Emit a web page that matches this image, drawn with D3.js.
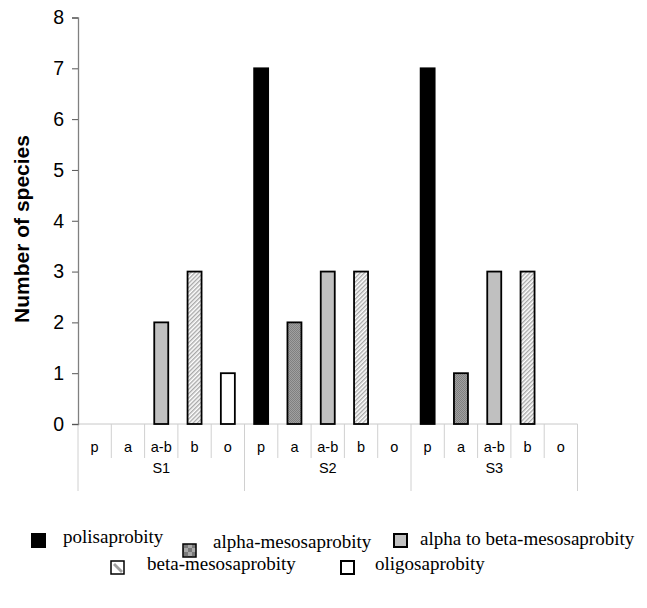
<!DOCTYPE html>
<html>
<head>
<meta charset="utf-8">
<script src="https://cdn.jsdelivr.net/npm/d3@7"></script>
<style>
  body { margin: 0; background: #fff; }
  svg { display: block; }
</style>
</head>
<body>
<svg id="chart" width="647" height="608"></svg>
<script>
// ---- data ----
const groups = ["S1", "S2", "S3"];
const classes = ["p", "a", "a-b", "b", "o"];
const classNames = ["polisaprobity", "alpha-mesosaprobity", "alpha to beta-mesosaprobity", "beta-mesosaprobity", "oligosaprobity"];
const valuesS1 = [0, 0, 2, 3, 1];
const valuesS2 = [7, 2, 3, 3, 0];
const valuesS3 = [7, 1, 3, 3, 0];
const yTicks = [0, 1, 2, 3, 4, 5, 6, 7, 8];

const seriesValues = [valuesS1, valuesS2, valuesS3];
const rows = [];
groups.forEach((g, gi) => classes.forEach((c, ci) => rows.push({ key: g + "|" + c, group: g, cls: c, ci, value: seriesValues[gi][ci] })));

const svg = d3.select("#chart");
const defs = svg.append("defs");

// patterns
const chk = defs.append("pattern").attr("id", "chk").attr("patternUnits", "userSpaceOnUse").attr("width", 2).attr("height", 2);
chk.append("rect").attr("width", 2).attr("height", 2).attr("fill", "#a0a0a0");
chk.append("rect").attr("width", 1).attr("height", 1).attr("fill", "#808080");
chk.append("rect").attr("x", 1).attr("y", 1).attr("width", 1).attr("height", 1).attr("fill", "#808080");

const hatch = defs.append("pattern").attr("id", "hatch").attr("patternUnits", "userSpaceOnUse").attr("width", 3).attr("height", 3)
  .attr("patternTransform", "rotate(45)");
hatch.append("rect").attr("width", 3).attr("height", 3).attr("fill", "#ffffff");
hatch.append("rect").attr("width", 1.4).attr("height", 3).attr("fill", "#a8a8a8");

const chkBig = defs.append("pattern").attr("id", "chkBig").attr("patternUnits", "userSpaceOnUse").attr("width", 8).attr("height", 8);
chkBig.append("rect").attr("width", 8).attr("height", 8).attr("fill", "#a8a8a8");
chkBig.append("rect").attr("width", 4).attr("height", 4).attr("fill", "#7a7a7a");
chkBig.append("rect").attr("x", 4).attr("y", 4).attr("width", 4).attr("height", 4).attr("fill", "#7a7a7a");

const fills = ["#000000", "url(#chk)", "#c0c0c0", "url(#hatch)", "#ffffff"];

// ---- scales ----
const x = d3.scaleBand().domain(rows.map(d => d.key)).range([78, 577.5]).paddingInner(0).paddingOuter(0);
const y = d3.scaleLinear().domain([0, 8]).range([424, 17.5]);
const barW = 14;
const step = x.step();

// x baseline and dividers
svg.append("line").attr("x1", 78).attr("x2", 577.5).attr("y1", y(0)).attr("y2", y(0)).attr("stroke", "#c8c8c8").attr("stroke-width", 1);
rows.forEach((d) => {
  const xb = x(d.key);
  const isGroupStart = d.ci === 0;
  svg.append("line").attr("x1", xb).attr("x2", xb).attr("y1", y(0)).attr("y2", isGroupStart ? 491 : 458)
    .attr("stroke", "#d0d0d0").attr("stroke-width", 1);
});
svg.append("line").attr("x1", 577.5).attr("x2", 577.5).attr("y1", y(0)).attr("y2", 491).attr("stroke", "#d0d0d0");

// category labels
svg.append("g").selectAll("text").data(rows).join("text")
  .attr("x", d => x(d.key) + step / 2).attr("y", 451.5)
  .attr("text-anchor", "middle").attr("font-family", "Liberation Sans, Arial, sans-serif").attr("font-size", 14.5)
  .attr("fill", "#000").text(d => d.cls);

// group labels
svg.append("g").selectAll("text").data(groups).join("text")
  .attr("x", (g) => x(g + "|" + classes[2]) + step / 2).attr("y", 473)
  .attr("text-anchor", "middle").attr("font-family", "Liberation Sans, Arial, sans-serif").attr("font-size", 14.5)
  .attr("fill", "#000").text(g => g);

// bars
svg.append("g").selectAll("rect").data(rows.filter(d => d.value > 0)).join("rect")
  .attr("x", d => x(d.key) + step / 2 - barW / 2)
  .attr("y", d => y(d.value))
  .attr("width", barW)
  .attr("height", d => y(0) - y(d.value))
  .attr("fill", d => fills[d.ci])
  .attr("stroke", "#000")
  .attr("stroke-width", 1.8);

// y axis
const yAxis = d3.axisLeft(y).tickValues(yTicks).tickSize(6).tickPadding(8).tickFormat(d3.format("d"));
const ya = svg.append("g").attr("transform", "translate(78,0)").call(yAxis);
ya.select(".domain").attr("stroke", "#808080").attr("stroke-width", 1.3);
ya.selectAll(".tick line").attr("stroke", "#555");
ya.selectAll(".tick text").attr("font-family", "Liberation Sans, Arial, sans-serif").attr("font-size", 19.5).attr("fill", "#000");

// y title
svg.append("text").attr("transform", "translate(29,229) rotate(-90)")
  .attr("text-anchor", "middle").attr("font-family", "Liberation Sans, Arial, sans-serif").attr("font-size", 21)
  .attr("font-weight", "bold").attr("fill", "#000").text("Number of species");

// legend
const legendPos = [
  { ix: 31, iy: 533, tx: 63, ty: 543 },
  { ix: 182, iy: 543, tx: 213, ty: 548 },
  { ix: 393, iy: 533, tx: 420, ty: 545 },
  { ix: 110, iy: 560, tx: 147, ty: 570 },
  { ix: 340, iy: 560, tx: 375, ty: 570 }
];
const lg = svg.append("g");
classNames.forEach((name, i) => {
  const p = legendPos[i];
  if (i === 0) {
    lg.append("rect").attr("x", p.ix).attr("y", p.iy).attr("width", 15).attr("height", 15).attr("fill", "#000");
  } else if (i === 1) {
    lg.append("rect").attr("x", p.ix + 1).attr("y", p.iy + 1).attr("width", 13).attr("height", 13)
      .attr("fill", "url(#chkBig)").attr("stroke", "#000").attr("stroke-width", 1.5);
  } else if (i === 3) {
    lg.append("rect").attr("x", p.ix + 1).attr("y", p.iy + 1).attr("width", 13).attr("height", 13)
      .attr("fill", "#fff").attr("stroke", "#000").attr("stroke-width", 1.5);
    lg.append("path").attr("d", `M${p.ix + 3},${p.iy + 5} L${p.ix + 5},${p.iy + 3} L${p.ix + 13},${p.iy + 11} L${p.ix + 11},${p.iy + 13} Z`)
      .attr("fill", "#a0a0a0");
  } else {
    lg.append("rect").attr("x", p.ix + 1).attr("y", p.iy + 1).attr("width", 13).attr("height", 13)
      .attr("fill", fills[i]).attr("stroke", "#000").attr("stroke-width", 2);
  }
  lg.append("text").attr("x", p.tx).attr("y", p.ty)
    .attr("font-family", "Liberation Serif, Times New Roman, serif").attr("font-size", 19)
    .attr("fill", "#000").text(name);
});
</script>
</body>
</html>
